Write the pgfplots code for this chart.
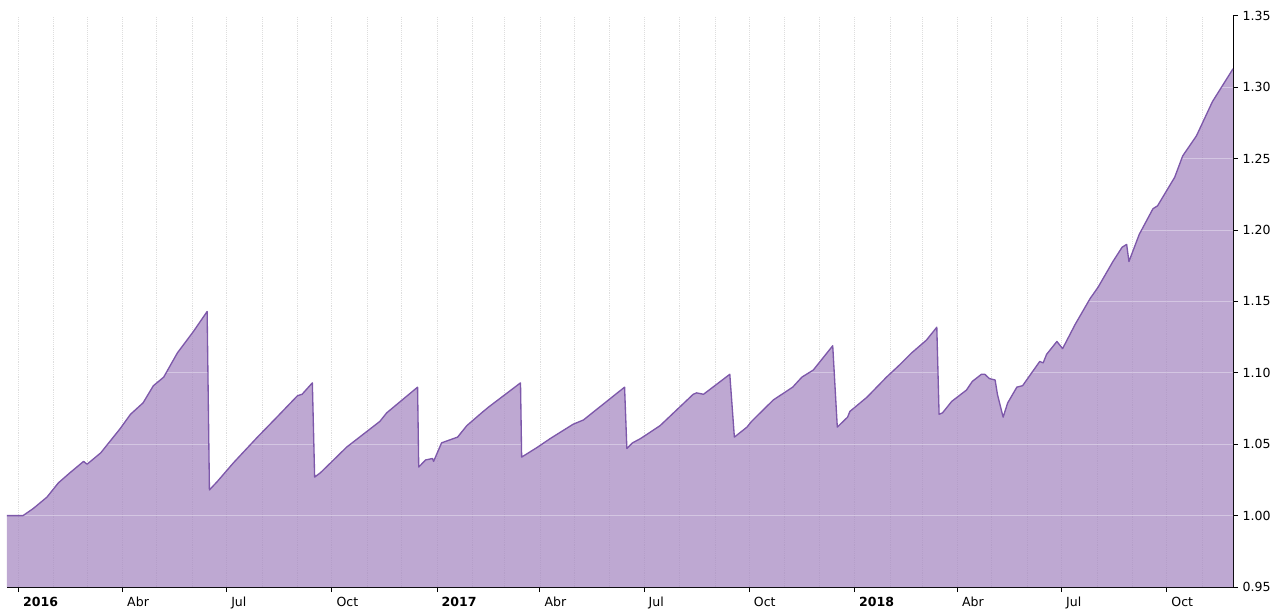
\documentclass[border=0pt]{standalone}
\usepackage{pgfplots}
\pgfplotsset{compat=1.18}
\usepackage{pgfplotstable}
\usepackage{fontspec}
\setmainfont{DejaVu Sans}
\definecolor{fillc}{RGB}{168,139,195}
\definecolor{linec}{RGB}{125,88,170}
\definecolor{gridc}{RGB}{222,222,222}
\pgfplotstableread{
d v
-10 1.000
4 1.000
13 1.005
25 1.013
35 1.023
45 1.030
57 1.038
60 1.036
72 1.044
89 1.061
98 1.071
109 1.079
118 1.091
127 1.097
139 1.114
153 1.129
165 1.143
167 1.018
174 1.024
188 1.037
209 1.055
226 1.069
244 1.084
248 1.085
257 1.093
259 1.027
264 1.030
273 1.037
287 1.048
316 1.066
322 1.072
349 1.090
350 1.034
356 1.039
362 1.040
363 1.038
370 1.051
384 1.055
392 1.063
405 1.072
411 1.076
439 1.093
440 1.041
454 1.048
465 1.054
485 1.064
494 1.067
530 1.090
532 1.047
537 1.051
544 1.054
561 1.063
590 1.085
593 1.086
599 1.085
622 1.099
626 1.055
637 1.062
641 1.066
660 1.081
677 1.090
685 1.097
695 1.102
712 1.119
716 1.062
725 1.069
727 1.073
742 1.083
759 1.097
771 1.106
781 1.114
794 1.123
803 1.132
805 1.071
808 1.072
816 1.080
829 1.088
834 1.094
842 1.099
845 1.099
849 1.096
854 1.095
856 1.085
861 1.069
865 1.079
873 1.090
878 1.091
893 1.108
896 1.107
899 1.113
908 1.122
913 1.117
924 1.134
937 1.152
944 1.160
957 1.178
965 1.188
969 1.190
971 1.178
980 1.197
992 1.215
996 1.217
1011 1.237
1018 1.252
1030 1.266
1044 1.290
1062 1.313
}\data
\begin{document}
\begin{tikzpicture}
\begin{axis}[name=ax, scale only axis, width=919.5pt, height=428.25pt,
  xmin=-10, xmax=1062, ymin=0.95, ymax=1.35,
  axis x line*=bottom, axis y line*=right,
  axis line style={black, line width=0.75pt},
  xtick={0,91,182,274,366,456,547,639,731,821,912,1004},
  xticklabels={\textbf{2016},Abr,Jul,Oct,\textbf{2017},Abr,Jul,Oct,\textbf{2018},Abr,Jul,Oct},
  minor xtick={31,60,121,152,213,244,305,335,397,425,486,517,578,609,670,700,762,790,851,882,943,974,1035},
  xmajorgrids, xminorgrids,
  grid style={gridc, densely dotted, line width=0.6pt},
  ytick={0.95,1,1.05,1.1,1.15,1.2,1.25,1.3,1.35},
  /pgf/number format/assume math mode=true,
  yticklabel style={/pgf/number format/.cd, fixed, fixed zerofill, precision=2},
  tick align=outside, major tick length=3.75pt, minor tick length=0pt,
  tick style={black, line width=0.75pt},
  ticklabel style={font=\fontsize{9.4}{11}\selectfont},
  xticklabel style={anchor=north west},
  clip=true,
]
\addplot[fill=fillc, fill opacity=0.75, draw=none, forget plot] table[x=d,y=v]{\data} \closedcycle;
\addplot[white, opacity=0.35, line width=0.75pt, forget plot] coordinates {(-10,1.00) (1062,1.00)};
\addplot[white, opacity=0.35, line width=0.75pt, forget plot] coordinates {(-10,1.05) (1062,1.05)};
\addplot[white, opacity=0.35, line width=0.75pt, forget plot] coordinates {(-10,1.10) (1062,1.10)};
\addplot[white, opacity=0.35, line width=0.75pt, forget plot] coordinates {(-10,1.15) (1062,1.15)};
\addplot[white, opacity=0.35, line width=0.75pt, forget plot] coordinates {(-10,1.20) (1062,1.20)};
\addplot[white, opacity=0.35, line width=0.75pt, forget plot] coordinates {(-10,1.25) (1062,1.25)};
\addplot[white, opacity=0.35, line width=0.75pt, forget plot] coordinates {(-10,1.30) (1062,1.30)};
\addplot[linec, line width=1pt, line join=round] table[x=d,y=v]{\data};
\end{axis}
\pgfresetboundingbox
\path[use as bounding box] ([shift={(-5.25pt,-17.25pt)}]ax.south west) rectangle ([shift={(35.25pt,12pt)}]ax.north east);
\end{tikzpicture}
\end{document}
